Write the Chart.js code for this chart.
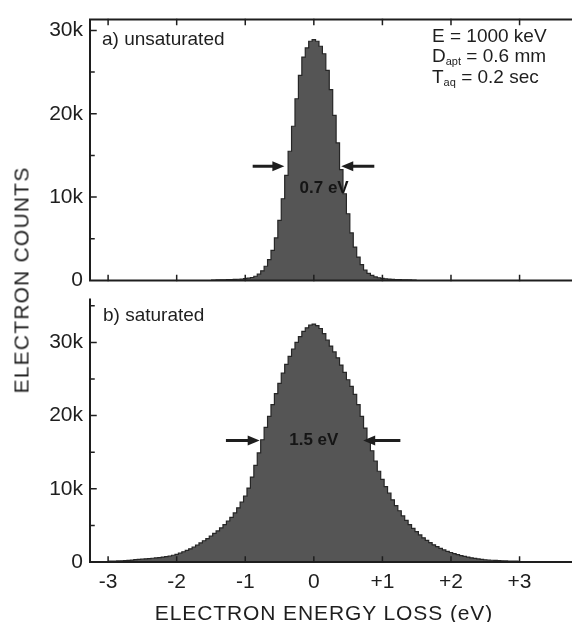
<!DOCTYPE html>
<html>
<head>
<meta charset="utf-8">
<script src="https://cdn.jsdelivr.net/npm/chart.js@4.4.0/dist/chart.umd.min.js"></script>
<style>
  body { margin: 0; background: #fff; font-family: "Liberation Sans", Arial, sans-serif; color: #1e1e1e; }
  #wrap { position: relative; width: 572px; height: 622px; overflow: hidden; }
  .box { position: absolute; left: 0; width: 572px; }
  #topBox { top: 0; height: 300px; }
  #bottomBox { top: 280px; height: 342px; }
  .lbl { position: absolute; white-space: nowrap; line-height: 1; }
  .panel { font-size: 19px; }
  .param { font-size: 19px; }
  .param sub { font-size: 11px; vertical-align: -3px; }
  #yTitle { left: 21px; top: 280px; font-size: 21px; letter-spacing: 1.2px;
            transform: translate(-50%, -50%) rotate(-90deg); }
  #xTitle { left: 324px; top: 602px; font-size: 21px; letter-spacing: 0.9px; transform: translateX(-50%); }
</style>
</head>
<body>
<div id="wrap">
  <div class="box" id="topBox"><canvas id="topChart"></canvas></div>
  <div class="box" id="bottomBox"><canvas id="bottomChart"></canvas></div>
  <div class="lbl panel" style="left:102px; top:29px;">a) unsaturated</div>
  <div class="lbl panel" style="left:103px; top:305px;">b) saturated</div>
  <div class="lbl param" style="left:432px; top:26px;">E = 1000 keV</div>
  <div class="lbl param" style="left:432px; top:46px;">D<sub>apt</sub> = 0.6 mm</div>
  <div class="lbl param" style="left:432px; top:67px;">T<sub>aq</sub> = 0.2 sec</div>
  <div class="lbl" id="yTitle">ELECTRON COUNTS</div>
  <div class="lbl" id="xTitle">ELECTRON ENERGY LOSS (eV)</div>
</div>
<script>
// energy loss axis (eV)
const xTicks = [-3, -2, -1, 0, 1, 2, 3];

// a) unsaturated: bins of 0.05 eV starting at -1.5 eV, counts in thousands
const unsatStart = -1.5;
const unsatCounts = [
  0.05, 0.05, 0.06, 0.07, 0.08, 0.09, 0.10, 0.12, 0.14, 0.17,
  0.21, 0.27, 0.35, 0.50, 0.75, 1.15, 1.70, 2.50, 3.60, 5.10,
  7.20, 9.80, 12.6, 15.5, 18.5, 21.8, 24.6, 26.8, 27.9, 28.7,
  28.9,
  28.7, 28.1, 27.2, 25.2, 22.9, 19.8, 16.5, 13.3, 10.4, 8.0,
  5.7, 4.0, 2.8, 1.9, 1.25, 0.85, 0.60, 0.42, 0.32, 0.25,
  0.20, 0.16, 0.13, 0.11, 0.09, 0.08, 0.07, 0.06, 0.05, 0.05
];

// b) saturated: bins of 0.05 eV starting at -3.0 eV, counts in thousands
const satStart = -3.0;
const satCounts = [
  0.12, 0.13, 0.14, 0.15, 0.17, 0.19, 0.22, 0.26,
  0.32, 0.35, 0.39, 0.43, 0.47, 0.51, 0.56, 0.61, 0.67, 0.74, 0.82, 0.92,
  1.05, 1.2, 1.4, 1.6, 1.8, 2.05, 2.3, 2.6, 2.9, 3.2,
  3.55, 3.9, 4.25, 4.65, 5.1, 5.6, 6.1, 6.7, 7.4, 8.2,
  9.0, 10.1, 11.6, 13.2, 14.9, 16.7, 18.4, 19.9, 21.5, 23.0,
  24.4, 25.8, 27.0, 28.1, 29.1, 30.0, 30.8, 31.5, 32.0, 32.35,
  32.5,
  32.3, 31.9, 31.2, 30.3, 29.5, 28.7, 27.9, 26.9, 25.9, 24.9,
  24.0, 22.9, 21.5, 19.9, 18.3, 16.7, 15.2, 13.8, 12.4, 11.3,
  10.3, 9.4, 8.5, 7.7, 7.0, 6.3, 5.7, 5.1, 4.6, 4.15,
  3.7, 3.3, 2.95, 2.65, 2.35, 2.1, 1.85, 1.65, 1.45, 1.3,
  1.15, 1.0, 0.88, 0.77, 0.67, 0.57, 0.49, 0.42, 0.36, 0.31,
  0.27, 0.24, 0.21, 0.19, 0.17, 0.15, 0.13, 0.12, 0.11, 0.10
];
const binWidth = 0.05;

const fwhmLabels = ["0.7 eV", "1.5 eV"];

function toPoints(start, counts) {
  return counts.map((c, i) => ({ x: +(start + i * binWidth).toFixed(2), y: c }));
}

// axis frame, inward ticks, FWHM arrows
const framePlugin = {
  id: "frame",
  afterDatasetsDraw(chart, args, opts) {
    const { ctx, chartArea: a, scales: { x, y } } = chart;
    ctx.save();
    ctx.strokeStyle = "#1e1e1e";
    ctx.lineCap = "square";
    ctx.lineWidth = 2;
    ctx.beginPath();
    ctx.moveTo(a.left, a.top);
    ctx.lineTo(a.left, a.bottom);
    ctx.lineTo(a.right, a.bottom);
    if (opts.topBorder) {
      ctx.moveTo(a.left, a.top);
      ctx.lineTo(a.right, a.top);
    }
    ctx.stroke();

    ctx.lineWidth = 1.5;
    ctx.beginPath();
    xTicks.forEach((v) => {
      const px = x.getPixelForValue(v);
      ctx.moveTo(px, a.bottom);
      ctx.lineTo(px, a.bottom - 5);
      if (opts.topBorder) {
        ctx.moveTo(px, a.top);
        ctx.lineTo(px, a.top + 5);
      }
    });
    for (let v = 5; v < y.max; v += 5) {
      const py = y.getPixelForValue(v);
      ctx.moveTo(a.left, py);
      ctx.lineTo(a.left + (v % 10 === 0 ? 6 : 4), py);
    }
    ctx.stroke();

    // FWHM arrows
    const ay = y.getPixelForValue(opts.arrowY);
    ctx.fillStyle = "#1e1e1e";
    opts.arrows.forEach(([from, to]) => {
      const x1 = x.getPixelForValue(from);
      const x2 = x.getPixelForValue(to);
      const dir = Math.sign(x2 - x1);
      ctx.lineWidth = 3;
      ctx.beginPath();
      ctx.moveTo(x1, ay);
      ctx.lineTo(x2 - dir * 8, ay);
      ctx.stroke();
      ctx.beginPath();
      ctx.moveTo(x2, ay);
      ctx.lineTo(x2 - dir * 12, ay - 5);
      ctx.lineTo(x2 - dir * 12, ay + 5);
      ctx.closePath();
      ctx.fill();
    });

    ctx.font = "bold 17px 'Liberation Sans', Arial, sans-serif";
    ctx.fillStyle = "#151515";
    ctx.textAlign = "center";
    ctx.textBaseline = "middle";
    ctx.fillText(opts.label, x.getPixelForValue(opts.labelX), y.getPixelForValue(opts.labelY));
    ctx.restore();
  }
};

function makeChart(id, points, yMax, padding, showXLabels, frame) {
  return new Chart(document.getElementById(id), {
    type: "line",
    data: {
      datasets: [{
        data: points,
        stepped: "middle",
        fill: "origin",
        backgroundColor: "#555555",
        borderColor: "#262626",
        borderWidth: 1.2,
        pointRadius: 0
      }]
    },
    plugins: [framePlugin],
    options: {
      responsive: true,
      maintainAspectRatio: false,
      animation: false,
      layout: { padding: padding },
      plugins: {
        legend: { display: false },
        tooltip: { enabled: false },
        frame: frame
      },
      scales: {
        x: {
          type: "linear",
          min: -3.264,
          max: 3.75,
          grid: { display: false, drawTicks: false },
          border: { display: false },
          ticks: {
            display: showXLabels,
            stepSize: 1,
            includeBounds: false,
            padding: 8,
            color: "#1e1e1e",
            font: { family: "'Liberation Sans', Arial, sans-serif", size: 21 },
            callback: (v) => (v > 0 ? "+" + v : String(v))
          },
          afterFit: (s) => { s.height = showXLabels ? 60 : 0; }
        },
        y: {
          min: 0,
          max: yMax,
          grid: { display: false, drawTicks: false },
          border: { display: false },
          ticks: {
            stepSize: 10,
            includeBounds: false,
            padding: 7,
            color: "#1e1e1e",
            font: { family: "'Liberation Sans', Arial, sans-serif", size: 21 },
            callback: (v) => (v === 0 ? "0" : v + "k")
          },
          afterFit: (s) => { s.width = 90; }
        }
      }
    }
  });
}

makeChart("topChart", toPoints(unsatStart, unsatCounts), 31.3,
  { top: 13, right: 1, bottom: 13, left: 0 }, false,
  { topBorder: true, arrowY: 13.7, arrows: [[-0.87, -0.43], [0.86, 0.4]],
    label: fwhmLabels[0], labelX: 0.15, labelY: 11.1 });

makeChart("bottomChart", toPoints(satStart, satCounts), 35.85,
  { top: 7, right: 1, bottom: 0, left: 0 }, true,
  { topBorder: false, arrowY: 16.6, arrows: [[-1.26, -0.79], [1.24, 0.72]],
    label: fwhmLabels[1], labelX: 0.0, labelY: 16.6 });
</script>
</body>
</html>
